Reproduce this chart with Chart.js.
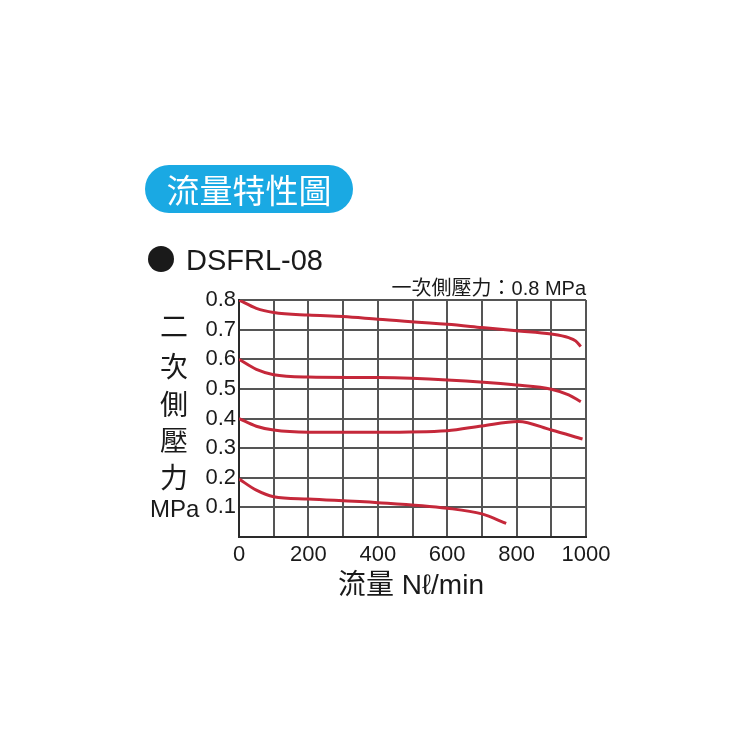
<!DOCTYPE html>
<html>
<head>
<meta charset="utf-8">
<script src="https://cdn.jsdelivr.net/npm/chart.js@4.4.0/dist/chart.umd.min.js"></script>
<style>
  body { margin: 0; background: #fff; }
  #wrap { position: relative; width: 750px; height: 750px; font-family: "Liberation Sans", Arial, sans-serif; color: #1a1a1a; }
  #chart { position: absolute; left: 0; top: 0; }
  .txt { position: absolute; white-space: nowrap; }
  .cjk { font-family: "Noto Sans CJK TC", "Noto Sans CJK SC", sans-serif; }
  #badge { left: 145px; top: 165px; width: 208px; height: 48px; border-radius: 24px; background: #1aa9e3;
           color: #fff; font-size: 33px; line-height: 48px; text-align: center; }
  #model { left: 148px; top: 244px; font-size: 29px; }
  #model .dot { display: inline-block; width: 26px; height: 26px; border-radius: 50%; background: #1a1a1a;
                vertical-align: -2px; margin-right: 12px; }
  #inlet { right: 164px; top: 272px; font-size: 20px; }
  .ych { left: 160px; width: 28px; text-align: center; font-size: 28px; line-height: 30px; }
  #mpa { left: 150px; top: 495px; font-size: 24px; }
  #xtitle { left: 338px; top: 562px; font-size: 28px; }
</style>
</head>
<body>
<div id="wrap">
  <canvas id="chart" width="750" height="750"></canvas>
  <div class="txt cjk" id="badge">流量特性圖</div>
  <div class="txt" id="model"><span class="dot"></span>DSFRL-08</div>
  <div class="txt" id="inlet"><span class="cjk">一次側壓力：</span>0.8 MPa</div>
  <div class="txt cjk ych" style="top:310px">二</div>
  <div class="txt cjk ych" style="top:350px">次</div>
  <div class="txt cjk ych" style="top:388px">側</div>
  <div class="txt cjk ych" style="top:424px">壓</div>
  <div class="txt cjk ych" style="top:461px">力</div>
  <div class="txt" id="mpa">MPa</div>
  <div class="txt" id="xtitle"><span class="cjk">流量</span> Nℓ/min</div>
</div>
<script>
// flow (Nl/min) and secondary pressure (MPa) for each set pressure
const flow08 = [0, 50, 100, 200, 300, 400, 600, 700, 800, 900, 950, 970, 985];
const pres08 = [0.80, 0.772, 0.758, 0.749, 0.744, 0.735, 0.718, 0.707, 0.696, 0.685, 0.673, 0.662, 0.643];

const flow06 = [0, 50, 100, 200, 400, 600, 800, 900, 950, 985];
const pres06 = [0.60, 0.566, 0.548, 0.540, 0.538, 0.530, 0.513, 0.499, 0.480, 0.457];

const flow04 = [0, 50, 100, 200, 400, 600, 700, 805, 900, 990];
const pres04 = [0.40, 0.374, 0.361, 0.354, 0.354, 0.359, 0.375, 0.390, 0.361, 0.331];

const flow02 = [0, 50, 100, 200, 400, 600, 700, 770];
const pres02 = [0.196, 0.158, 0.136, 0.128, 0.116, 0.097, 0.078, 0.046];

const xTickLabels = [0, 200, 400, 600, 800, 1000];
const yTickLabels = [0.1, 0.2, 0.3, 0.4, 0.5, 0.6, 0.7, 0.8];

const lineColor = '#c5283a';

function makeSeries(xs, ys) {
  return {
    data: xs.map((x, i) => ({ x: x, y: ys[i] })),
    borderColor: lineColor,
    borderWidth: 3,
    pointRadius: 0,
    cubicInterpolationMode: 'monotone',
    fill: false
  };
}

new Chart(document.getElementById('chart').getContext('2d'), {
  type: 'line',
  data: {
    datasets: [
      makeSeries(flow08, pres08),
      makeSeries(flow06, pres06),
      makeSeries(flow04, pres04),
      makeSeries(flow02, pres02)
    ]
  },
  options: {
    responsive: false,
    animation: false,
    layout: { padding: { left: 0, top: 300, right: 164, bottom: 183 } },
    plugins: { legend: { display: false }, tooltip: { enabled: false } },
    scales: {
      x: {
        type: 'linear',
        min: 0,
        max: 1000,
        afterFit: (axis) => { axis.height = 30; },
        grid: { color: '#555', lineWidth: 2, drawTicks: false },
        border: { color: '#2a2a2a', width: 2 },
        ticks: {
          stepSize: 100,
          padding: 5,
          maxRotation: 0,
          autoSkip: false,
          color: '#1a1a1a',
          font: { family: 'Liberation Sans', size: 22 },
          callback: (v) => xTickLabels.includes(v) ? String(v) : ''
        }
      },
      y: {
        min: 0,
        max: 0.8,
        afterFit: (axis) => { axis.width = 239; },
        grid: { color: '#555', lineWidth: 2, drawTicks: false },
        border: { color: '#2a2a2a', width: 2 },
        ticks: {
          stepSize: 0.1,
          padding: 3,
          autoSkip: false,
          color: '#1a1a1a',
          font: { family: 'Liberation Sans', size: 22 },
          callback: (v) => {
            const r = Math.round(v * 10) / 10;
            return yTickLabels.includes(r) ? r.toFixed(1) : '';
          }
        }
      }
    }
  }
});
</script>
</body>
</html>
